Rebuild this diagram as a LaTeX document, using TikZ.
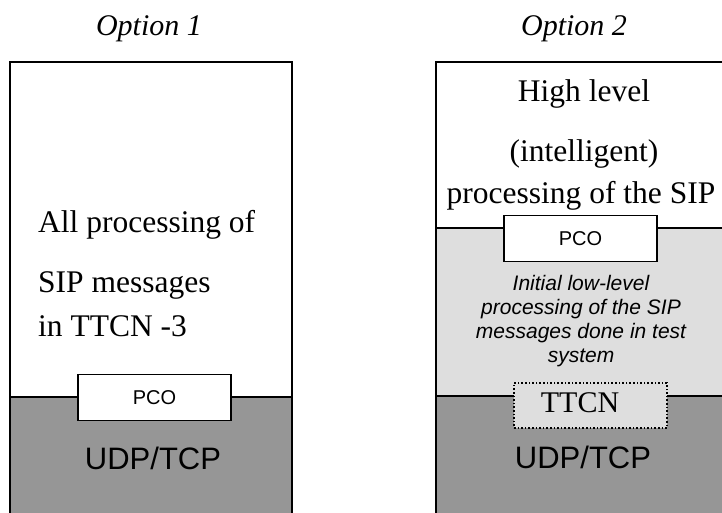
\documentclass[tikz,border=0pt]{standalone}
\usepackage{fontspec}
\setmainfont{Liberation Serif}
\setsansfont{Liberation Sans}
\definecolor{darkgr}{RGB}{150,150,150}
\definecolor{lightgr}{RGB}{222,222,222}
\begin{document}
\begin{tikzpicture}[x=1pt,y=-1pt,
  title/.style={font=\fontsize{30}{30}\selectfont\itshape, anchor=base},
  serifbig/.style={font=\fontsize{31.5}{31.5}\selectfont},
  sansbig/.style={font=\sffamily\fontsize{31}{31}\selectfont, anchor=base},
  pcobox/.style={draw=black, line width=1.1pt, fill=white, inner sep=0pt,
    minimum width=153pt, minimum height=46pt, font=\sffamily\fontsize{20}{20}\selectfont},
  note/.style={font=\sffamily\itshape\fontsize{21}{21}\selectfont, anchor=base},
  border/.style={draw=black, line width=1.1pt}]
\useasboundingbox (0,0) rectangle (722,513);
\begin{scope}
\clip (0,0) rectangle (722,513);
% left column
\fill[white] (10,62) rectangle (292,397);
\fill[darkgr] (10,397) rectangle (292,530);
\draw[border] (10,530) -- (10,62) -- (292,62) -- (292,530);
\draw[border] (10,397) -- (292,397);
% right column
\fill[white] (436,62) rectangle (740,228);
\fill[lightgr] (436,228) rectangle (740,396);
\fill[darkgr] (436,396) rectangle (740,530);
\draw[border] (436,530) -- (436,62) -- (740,62);
\draw[border] (436,228) -- (740,228);
\draw[border] (436,396) -- (740,396);
\end{scope}
% titles
\node[title] (t1) at (149,36) {Option 1};
\node[title] (t2) at (574,36) {Option 2};
% left texts
\node[serifbig, anchor=base west, inner sep=0pt] (l1) at (38,232) {All processing of};
\node[serifbig, anchor=base west, inner sep=0pt] (l2) at (38,292) {SIP messages};
\node[serifbig, anchor=base west, inner sep=0pt] (l3) at (38,336) {in TTCN -3};
\node[pcobox] (pco1) at (154.5,397.5) {PCO};
\node[sansbig] (udp1) at (153,469) {UDP/TCP};
% right texts
\node[serifbig, anchor=base] (r1) at (584,102) {High level};
\node[serifbig, anchor=base] (r2) at (584,161) {(intelligent)};
\node[serifbig, anchor=base] (r3) at (581,204) {processing of the SIP};
\node[pcobox] (pco2) at (580.5,238.5) {PCO};
\node[note] (n1) at (581,290) {Initial low-level};
\node[note] (n2) at (581,314) {processing of the SIP};
\node[note] (n3) at (581,338) {messages done in test};
\node[note] (n4) at (581,362) {system};
\node[draw=black, dotted, line width=1.6pt, fill=lightgr, inner sep=0pt,
  minimum width=153pt, minimum height=45pt] (ttcnbox) at (590.5,405.5) {};
\node[font=\fontsize{30}{30}\selectfont, anchor=base] (ttcn) at (580,412) {TTCN};
\node[sansbig] (udp2) at (583,468) {UDP/TCP};
\end{tikzpicture}
\end{document}
